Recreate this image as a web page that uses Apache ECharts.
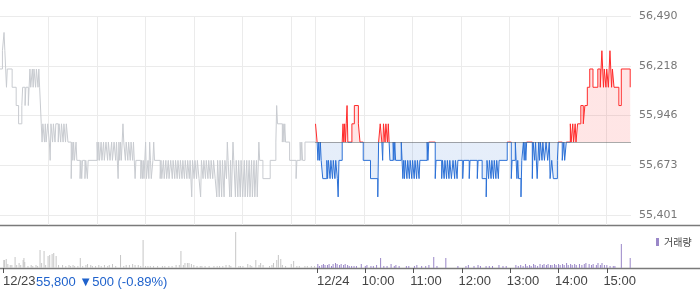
<!DOCTYPE html>
<html><head><meta charset="utf-8">
<script src="https://cdn.jsdelivr.net/npm/echarts@6/dist/echarts.min.js"></script>
<style>html,body{margin:0;padding:0;background:#fff}#c{width:700px;height:289px}</style>
</head><body><div id="c"></div>
<script>
// x = minutes since 12/23 09:00 on a continuous session axis (12/24 09:00 = 390)
const DAY1_PRICE = [[0,56200],[3,56300],[5,56400],[6,56300],[8,56100],[9,56200],[15,56100],[20,56000],[23,55900],[27,56000],[28,56100],[31,56000],[32,56100],[35,56000],[36,56100],[37,56200],[38,56100],[40,56200],[41,56100],[42,56200],[44,56100],[45,56200],[47,56100],[48,56200],[49,56100],[51,55900],[52,55800],[53,55900],[55,55800],[56,55900],[57,55800],[59,55900],[61,55800],[62,55700],[63,55900],[65,55800],[66,55900],[68,55800],[69,55900],[72,55800],[73,55900],[75,55800],[76,55900],[78,55800],[79,55900],[81,55800],[82,55900],[84,55800],[88,55600],[89,55800],[90,55700],[91,55800],[92,55700],[94,55800],[95,55700],[99,55600],[100,55700],[101,55600],[102,55700],[105,55600],[106,55700],[108,55600],[109,55700],[120,55800],[121,55700],[122,55800],[123,55700],[125,55800],[126,55700],[128,55800],[129,55700],[131,55800],[133,55700],[134,55800],[136,55700],[138,55800],[139,55700],[141,55800],[143,55700],[144,55800],[146,55600],[147,55800],[148,55700],[149,55800],[150,55700],[152,55900],[153,55800],[155,55700],[156,55800],[158,55700],[159,55800],[161,55700],[162,55800],[164,55700],[165,55800],[167,55600],[168,55700],[174,55600],[175,55700],[176,55600],[177,55700],[178,55600],[180,55800],[181,55600],[183,55700],[184,55600],[185,55800],[186,55700],[187,55600],[189,55700],[190,55800],[191,55700],[198,55600],[199,55700],[200,55600],[202,55700],[203,55600],[205,55700],[206,55600],[208,55700],[209,55600],[211,55700],[213,55600],[214,55700],[216,55600],[217,55700],[219,55600],[220,55700],[222,55600],[223,55700],[225,55600],[226,55700],[228,55600],[229,55700],[231,55600],[232,55700],[234,55600],[235,55700],[237,55500],[238,55700],[240,55600],[241,55700],[243,55600],[244,55700],[246,55600],[248,55500],[249,55700],[251,55600],[252,55700],[254,55600],[255,55700],[257,55600],[258,55700],[260,55600],[261,55700],[263,55600],[264,55700],[266,55600],[268,55500],[269,55700],[271,55500],[272,55700],[274,55500],[275,55700],[277,55500],[278,55700],[280,55600],[281,55800],[282,55700],[284,55500],[285,55700],[286,55500],[288,55800],[289,55700],[291,55500],[292,55700],[294,55500],[295,55700],[297,55500],[298,55700],[300,55500],[302,55700],[303,55500],[305,55700],[306,55500],[308,55700],[309,55500],[311,55700],[312,55500],[314,55700],[315,55500],[317,55700],[318,55500],[320,55800],[321,55700],[325,55600],[334,55700],[341,55800],[342,56000],[343,55900],[349,55800],[350,55900],[351,55800],[352,55900],[353,55800],[358,55700],[366,55600],[367,55700],[371,55800],[372,55700],[373,55800],[374,55700],[377,55800],[390,55800]];
const DAY2_PRICE = [[390,55900],[392,55800],[393,55700],[394,55800],[395,55700],[396,55800],[397,55700],[399,55600],[404,55700],[405,55600],[406,55700],[408,55600],[409,55700],[411,55600],[412,55700],[414,55600],[415,55700],[417,55600],[418,55500],[419,55700],[423,55800],[424,55900],[425,55800],[426,55900],[427,55800],[428,55900],[429,56000],[430,55800],[435,55900],[438,56000],[443,55900],[445,55800],[449,55700],[458,55600],[467,55500],[468,55800],[470,55900],[472,55800],[473,55700],[474,55900],[476,55800],[477,55900],[479,55800],[480,55900],[482,55700],[486,55800],[487,55700],[488,55800],[489,55700],[496,55800],[498,55600],[499,55700],[500,55600],[501,55700],[503,55600],[504,55700],[506,55600],[507,55700],[509,55600],[510,55700],[512,55600],[513,55700],[515,55600],[516,55700],[518,55600],[519,55700],[528,55800],[529,55700],[530,55800],[538,55600],[539,55700],[546,55600],[547,55700],[549,55600],[550,55700],[552,55600],[553,55700],[555,55600],[556,55700],[558,55600],[560,55700],[562,55600],[563,55700],[565,55600],[566,55700],[572,55600],[573,55700],[580,55600],[581,55700],[590,55600],[591,55700],[596,55600],[601,55500],[602,55700],[604,55600],[605,55700],[607,55600],[608,55700],[610,55600],[611,55700],[613,55600],[614,55700],[616,55600],[617,55700],[627,55800],[632,55600],[633,55700],[637,55800],[639,55600],[640,55700],[641,55600],[644,55500],[645,55700],[647,55800],[648,55700],[649,55800],[650,55700],[651,55800],[658,55600],[659,55800],[661,55700],[662,55800],[664,55600],[666,55800],[667,55700],[668,55800],[670,55700],[671,55800],[673,55700],[675,55800],[677,55700],[679,55800],[680,55600],[682,55700],[684,55600],[689,55700],[690,55800],[695,55700],[697,55800],[698,55700],[700,55800],[705,55900],[706,55800],[708,55900],[709,55800],[711,55900],[712,55800],[714,55900],[718,56000],[721,55900],[723,56000],[726,56100],[729,56200],[733,56100],[739,56200],[742,56100],[744,56300],[745,56200],[746,56100],[747,56200],[749,56100],[750,56200],[752,56100],[754,56300],[755,56200],[756,56100],[757,56200],[759,56100],[765,56000],[768,56200],[779,56100]];
// volume (thousand shares)
const VOL_DAY1 = [[1,8],[2,8],[4,9],[6,4],[9,3],[11,3],[15,11],[17,3],[20,5],[22,3],[25,8],[26,10],[27,6],[31,2],[35,3],[37,2],[41,3],[43,2],[46,18],[48,5],[51,17],[53,3],[56,12],[58,13],[61,14],[63,15],[66,12],[69,3],[74,3],[78,2],[82,3],[84,2],[87,3],[89,2],[93,2],[96,10],[99,2],[103,3],[105,4],[109,3],[111,2],[115,2],[119,3],[122,2],[126,3],[130,2],[132,3],[136,4],[140,2],[146,13],[150,2],[153,3],[157,3],[161,4],[164,3],[168,3],[171,2],[174,28],[177,2],[180,2],[183,2],[187,2],[192,2],[198,2],[201,2],[206,2],[210,2],[215,3],[219,3],[221,17],[224,3],[226,5],[229,5],[231,5],[234,4],[237,3],[241,2],[245,2],[247,2],[251,2],[256,2],[262,2],[266,2],[269,2],[273,2],[277,3],[281,3],[283,2],[289,36],[293,2],[295,2],[298,2],[304,4],[307,3],[309,2],[314,8],[318,3],[320,5],[323,3],[331,2],[334,3],[336,5],[340,8],[342,13],[345,9],[347,3],[351,2],[358,4],[361,7],[365,2],[368,2],[375,2],[378,2],[383,2],[387,2]];
const VOL_DAY2 = [[391,4],[393,2],[396,3],[398,4],[400,3],[403,3],[405,4],[408,2],[410,4],[413,5],[415,4],[418,3],[420,4],[423,3],[425,4],[428,3],[430,2],[433,2],[436,2],[439,2],[445,4],[450,2],[452,3],[457,2],[460,2],[464,3],[469,10],[473,2],[477,2],[482,4],[486,2],[488,3],[492,2],[501,2],[504,2],[511,2],[514,3],[520,2],[525,2],[529,3],[535,11],[539,2],[550,10],[565,2],[575,2],[578,3],[585,2],[590,3],[593,2],[600,2],[604,2],[608,2],[616,3],[621,2],[625,2],[637,3],[640,2],[643,3],[646,2],[649,4],[651,2],[654,3],[656,2],[659,4],[661,3],[664,2],[667,4],[670,3],[672,4],[675,3],[677,4],[680,3],[682,3],[685,4],[687,3],[690,4],[692,3],[695,4],[697,3],[700,5],[702,3],[705,4],[707,3],[710,4],[712,3],[716,4],[719,3],[722,4],[724,5],[728,4],[731,3],[733,4],[737,3],[739,5],[742,3],[744,5],[747,3],[750,3],[754,2],[758,2],[760,2],[768,24],[779,10]];
const PREV_CLOSE = 55800;
const Y_TICKS = [55401, 55673.25, 55945.5, 56217.75, 56490];
const GRID_X = [60,120,180,240,300,360,390,450,510,570,630,690,750];
const TICK_X = [0,390,450,510,570,630,690,750];
const DATE_LABELS = ['12/23','12/24'];
const INFO_TEXT = '55,800 ▼500 (-0.89%)';
const LEGEND_NAME = '거래량';

const Y_MAX = 56490;
const Y_MIN = Y_MAX - (Y_MAX - 55401) * 209 / 199;
const LABEL_SHIFT = 4.3; // minutes
const LABEL_X = TICK_X.map(v => v <= 0 || v === 390 ? v : v - LABEL_SHIFT);
const fmt = v => String(Math.round(v)).replace(/\B(?=(\d{3})+(?!\d))/g, ',');

const chart = echarts.init(document.getElementById('c'), null, {renderer: 'canvas'});
chart.setOption({
  animation: false,
  backgroundColor: '#fff',
  textStyle: {fontFamily: 'DejaVu Sans'},
  grid: [
    {left: 0, right: 69, top: 16, height: 209},
    {left: 0, right: 69, top: 226, height: 42}
  ],
  xAxis: [
    {gridIndex: 0, type: 'value', min: 0, max: 780,
     axisLine: {show: false}, axisLabel: {show: false},
     axisTick: {show: false, customValues: GRID_X},
     splitLine: {show: true, lineStyle: {color: '#ebebeb', width: 1}}},
    {gridIndex: 1, type: 'value', min: 0, max: 780,
     axisLine: {show: false},
     axisTick: {show: true, inside: false, length: 5, customValues: TICK_X, lineStyle: {color: '#555'}},
     axisLabel: {customValues: LABEL_X, align: 'left', margin: 7, fontSize: 13, fontFamily: 'Liberation Sans', color: '#444',
       formatter: v => {
         if (v < 5) return DATE_LABELS[0];
         if (v === 390) return DATE_LABELS[1];
         const h = 9 + Math.round((v - 390) / 60);
         return (h < 10 ? '0' : '') + h + ':00';
       }},
     splitLine: {show: false}}
  ],
  yAxis: [
    {gridIndex: 0, type: 'value', position: 'right', min: Y_MIN, max: Y_MAX,
     axisLine: {show: false},
     axisTick: {show: false, customValues: Y_TICKS},
     axisLabel: {customValues: Y_TICKS, margin: 8, fontSize: 11, color: '#777', formatter: fmt},
     splitLine: {show: true, lineStyle: {color: '#ebebeb', width: 1}}},
    {gridIndex: 1, type: 'value', min: 0, max: 42, show: false}
  ],
  visualMap: {type: 'piecewise', show: false, seriesIndex: 1, dimension: 1,
    pieces: [{gt: PREV_CLOSE, lte: 60000, color: '#ff2a2a'}, {gte: 50000, lte: PREV_CLOSE, color: '#2b70d6'}]},
  legend: {data: [LEGEND_NAME], left: 651, top: 232, icon: 'rect', itemWidth: 3, itemHeight: 8, itemGap: 0,
    selectedMode: false, textStyle: {fontSize: 10, fontFamily: 'Noto Sans CJK KR', color: '#444'}},
  series: [
    {name: '12/23', type: 'line', xAxisIndex: 0, yAxisIndex: 0, data: DAY1_PRICE, step: 'end',
     showSymbol: false, silent: true, lineStyle: {color: '#c8cbd0', width: 1}},
    {name: '12/24', type: 'line', xAxisIndex: 0, yAxisIndex: 0, data: DAY2_PRICE, step: 'end',
     showSymbol: false, silent: true, lineStyle: {width: 1},
     areaStyle: {origin: PREV_CLOSE, opacity: 0.12},
     markLine: {silent: true, symbol: 'none', label: {show: false},
       lineStyle: {type: 'dotted', color: '#555', width: 1},
       data: [[{coord: [390, PREV_CLOSE]}, {coord: [780, PREV_CLOSE]}]]}},
    {name: '거래량(12/23)', type: 'bar', xAxisIndex: 1, yAxisIndex: 1, data: VOL_DAY1, barWidth: 1, barGap: '-100%',
     silent: true, itemStyle: {color: '#c6c6c6'}},
    {name: LEGEND_NAME, type: 'bar', xAxisIndex: 1, yAxisIndex: 1, data: VOL_DAY2, barWidth: 1, barGap: '-100%',
     silent: true, itemStyle: {color: '#9a87c8'}}
  ],
  graphic: [
    {type: 'line', shape: {x1: 0, y1: 225.5, x2: 700, y2: 225.5}, style: {stroke: '#7a7a7a', lineWidth: 1.3}, silent: true},
    {type: 'line', shape: {x1: 0, y1: 268.5, x2: 700, y2: 268.5}, style: {stroke: '#7a7a7a', lineWidth: 1.3}, silent: true},
    {type: 'text', x: 36, y: 282, style: {text: INFO_TEXT, fill: '#1f62cc', font: '13px "Liberation Sans"', verticalAlign: 'middle', align: 'left'}, silent: true}
  ]
});
</script></body></html>
